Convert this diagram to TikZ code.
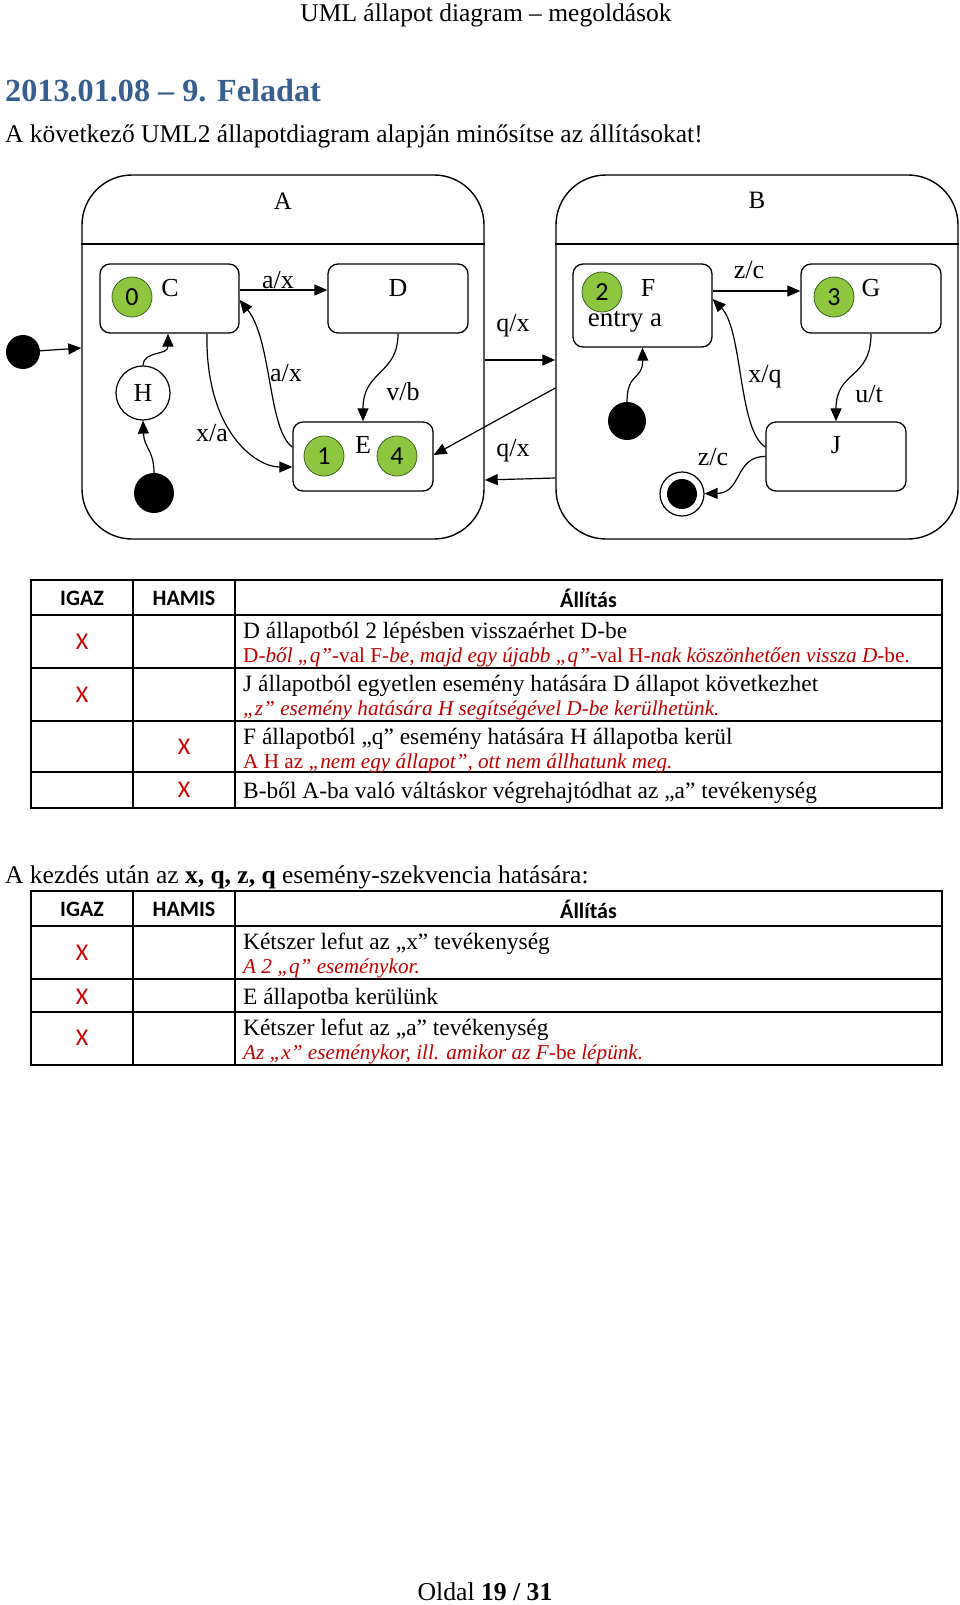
\documentclass[tikz,border=0pt]{standalone}
\usepackage{fontspec}
\setmainfont{Liberation Serif}
\newfontfamily\calfont{Carlito}
\usetikzlibrary{arrows.meta,calc}
\definecolor{headblue}{RGB}{54,95,145}
\definecolor{ansred}{RGB}{192,0,0}
\definecolor{xred}{RGB}{205,0,0}
\definecolor{sgreen}{RGB}{141,198,63}
\definecolor{sgreenline}{RGB}{60,100,30}
\newcommand{\fsz}[1]{\fontsize{#1}{#1}\selectfont}
\begin{document}
\begin{tikzpicture}[x=1pt,y=-1pt,
  superstate/.style={draw, line width=1.4pt, rounded corners=50pt, minimum width=402pt, minimum height=364pt, inner sep=0pt},
  sbox/.style={draw, line width=1.3pt, rounded corners=10pt, inner sep=0pt, fill=white},
  num/.style={circle, draw=sgreenline, line width=0.8pt, fill=sgreen, minimum size=40pt, inner sep=0pt, font=\calfont\fsz{26}},
  initdot/.style={circle, fill=black, inner sep=0pt},
  lbl/.style={font=\fsz{26}, inner sep=0pt},
  arr/.style={-{Triangle[length=13pt,width=11pt]}, line width=1.2pt},
  tline/.style={line width=2.2pt},
  thead/.style={font=\calfont\bfseries\fsz{22}, inner sep=0pt},
  xmark/.style={font=\calfont\fsz{24}, text=xred, inner sep=0pt},
  ttext/.style={font=\fsz{23.4}, inner sep=0pt, anchor=base west},
  rtext/.style={font=\fsz{21.2}, text=ansred, inner sep=0pt, anchor=base west}
]
\useasboundingbox (0,0) rectangle (960,1605);

% page texts
\node[font=\fsz{25.5}, inner sep=0pt, anchor=base] (hdr) at (486,22) {UML állapot diagram – megoldások};
\node[font=\bfseries\fsz{32.2}, text=headblue, inner sep=0pt, anchor=base west] (title) at (5,102) {2013.01.08 – 9. Feladat};
\node[ttext, font=\fsz{25.5}] (intro) at (5,143) {A következő UML2 állapotdiagram alapján minősítse az állításokat!};

% superstates
\node[superstate] (A) at (283,357) {};
\node[superstate] (B) at (757,357) {};
\draw[line width=1.4pt] (A.west |- 0,244) -- (A.east |- 0,244);
\draw[line width=1.4pt] (B.west |- 0,244) -- (B.east |- 0,244);
\node[lbl, font=\fsz{25}] (Atitle) at (283,201) {A};
\node[lbl, font=\fsz{25}] (Btitle) at (757,200) {B};

% simple states
\node[sbox, minimum width=139pt, minimum height=69pt] (C) at (169.5,298.5) {};
\node[sbox, minimum width=140pt, minimum height=69pt] (D) at (398,298.5) {};
\node[sbox, minimum width=140pt, minimum height=69pt] (E) at (363,456.5) {};
\node[sbox, minimum width=139pt, minimum height=83pt] (F) at (642.5,305.5) {};
\node[sbox, minimum width=140pt, minimum height=69pt] (G) at (871,298.5) {};
\node[sbox, minimum width=140pt, minimum height=69pt] (J) at (836,456.5) {};

\node[lbl] (Cl) at (170,288) {C};
\node[lbl] (Dl) at (398,288) {D};
\node[lbl] (El) at (363,445) {E};
\node[lbl] (Fl) at (648,288) {F};
\node[lbl] (Gl) at (871,288) {G};
\node[lbl] (Jl) at (836,445) {J};
\node[lbl, font=\fsz{27}] (entry) at (625,322) {entry a};

\node[num] (n0) at (132,297) {0};
\node[num] (n1) at (324,456) {1};
\node[num] (n4) at (397,456) {4};
\node[num] (n2) at (602,292) {2};
\node[num] (n3) at (834,297) {3};

\node[circle, draw, line width=1.2pt, fill=white, minimum size=54pt, inner sep=0pt, font=\fsz{26}] (H) at (143,393) {H};

\node[initdot, minimum size=34pt] (i1) at (23,352) {};
\node[initdot, minimum size=40pt] (i2) at (154,493) {};
\node[initdot, minimum size=38pt] (i3) at (627,421) {};
\node[circle, draw, line width=1.2pt, fill=white, minimum size=44pt, inner sep=0pt] (fin) at (682,494) {};
\node[initdot, minimum size=30pt] (fini) at (fin) {};

% transitions
\draw[arr] (i1) -- ([yshift=9pt]A.west);
\draw[arr] ([yshift=8.5pt]C.east) -- ([yshift=8.5pt]D.west);
\draw[arr] (i2.north) .. controls (154,450) and (144,448) .. (H.south);
\draw[arr] (H.north) .. controls (144,350) and (168,356) .. ([xshift=-1.5pt]C.south);
\draw[arr] ([xshift=37.5pt]C.south) .. controls (205,430) and (255,467) .. ([yshift=-10.5pt]E.west);
\draw[arr] ([yshift=9.5pt]E.west) .. controls (268,430) and (272,340) .. ([yshift=-1.5pt]C.east);
\draw[arr] (D.south) .. controls (398,375) and (363,370) .. (E.north);
\draw[arr] ([yshift=-3pt]A.east) -- ([yshift=-3pt]B.west);
\draw[arr] ([yshift=-31pt]B.west) -- ([yshift=1.5pt]E.east);
\draw[arr] ([yshift=-121pt]B.west) -- ([yshift=-123pt]A.east);
\draw[arr] (i3.north) .. controls (627,372) and (643,380) .. (F.south);
\draw[arr] ([yshift=14.5pt]F.east) -- ([yshift=7.5pt]G.west);
\draw[arr] (G.south) .. controls (871,380) and (836,370) .. (J.north);
\draw[arr] ([yshift=9.5pt]J.west) .. controls (738,430) and (743,330) .. ([yshift=6.5pt]F.east);
\draw[arr] (J.west) .. controls (735,456) and (742,493) .. (fin);

% transition labels
\node[lbl] (tCD) at (278,280) {a/x};
\node[lbl] (tCE) at (212,433) {x/a};
\node[lbl] (tEC) at (286,373) {a/x};
\node[lbl] (tDE) at (403,392) {v/b};
\node[lbl] (tAB) at (513,326) {q/x};
\node[lbl] (tBA) at (513,451) {q/x};
\node[lbl] (tFG) at (749,270) {z/c};
\node[lbl] (tGJ) at (869,394) {u/t};
\node[lbl] (tJF) at (765,377) {x/q};
\node[lbl] (tJfin) at (713,457) {z/c};

% table 1
\draw[tline] (31,580) rectangle (942,808);
\foreach \yy in {615,668,721,772} \draw[tline] (31,\yy) -- (942,\yy);
\foreach \xx in {133,235} \draw[tline] (\xx,580) -- (\xx,808);
\node[thead] (h1a) at (82,598) {IGAZ};
\node[thead] (h1b) at (184,598) {HAMIS};
\node[thead] (h1c) at (588.5,598) {Állítás};
\node[xmark] (x11) at (82,642) {X};
\node[xmark] (x12) at (82,695) {X};
\node[xmark] (x13) at (184,747) {X};
\node[xmark] (x14) at (184,790) {X};
\node[ttext] (r11) at (243,638) {D állapotból 2 lépésben visszaérhet D-be};
\node[rtext] (r12) at (243,662) {D-\textit{ből „q”}-val F-\textit{be, majd egy újabb „q”}-val H-\textit{nak köszönhetően vissza D}-be.};
\node[ttext] (r21) at (243,691) {J állapotból egyetlen esemény hatására D állapot következhet};
\node[rtext] (r22) at (243,715) {\textit{„z” esemény hatására H segítségével D-be kerülhetünk.}};
\node[ttext] (r31) at (243,744) {F állapotból „q” esemény hatására H állapotba kerül};
\node[rtext] (r32) at (243,768) {A H az \textit{„nem egy állapot”, ott nem állhatunk meg.}};
\node[ttext] (r41) at (243,798) {B-ből A-ba való váltáskor végrehajtódhat az „a” tevékenység};

% second part
\node[ttext, font=\fsz{25.5}] (seq) at (5,883) {A kezdés után az \textbf{x, q, z, q} esemény-szekvencia hatására:};
\draw[tline] (31,891) rectangle (942,1065);
\foreach \yy in {926,979,1012} \draw[tline] (31,\yy) -- (942,\yy);
\foreach \xx in {133,235} \draw[tline] (\xx,891) -- (\xx,1065);
\node[thead] (h2a) at (82,909) {IGAZ};
\node[thead] (h2b) at (184,909) {HAMIS};
\node[thead] (h2c) at (588.5,909) {Állítás};
\node[xmark] (x21) at (82,953) {X};
\node[xmark] (x22) at (82,997) {X};
\node[xmark] (x23) at (82,1038) {X};
\node[ttext] (s11) at (243,949) {Kétszer lefut az „x” tevékenység};
\node[rtext] (s12) at (243,973) {\textit{A 2 „q” eseménykor.}};
\node[ttext] (s21) at (243,1004) {E állapotba kerülünk};
\node[ttext] (s31) at (243,1035) {Kétszer lefut az „a” tevékenység};
\node[rtext] (s32) at (243,1059) {\textit{Az „x” eseménykor, ill. amikor az F}-be \textit{lépünk.}};

% footer
\node[font=\fsz{25.7}, inner sep=0pt, anchor=base] (foot) at (485,1600) {Oldal \textbf{19 / 31}};
\end{tikzpicture}
\end{document}
